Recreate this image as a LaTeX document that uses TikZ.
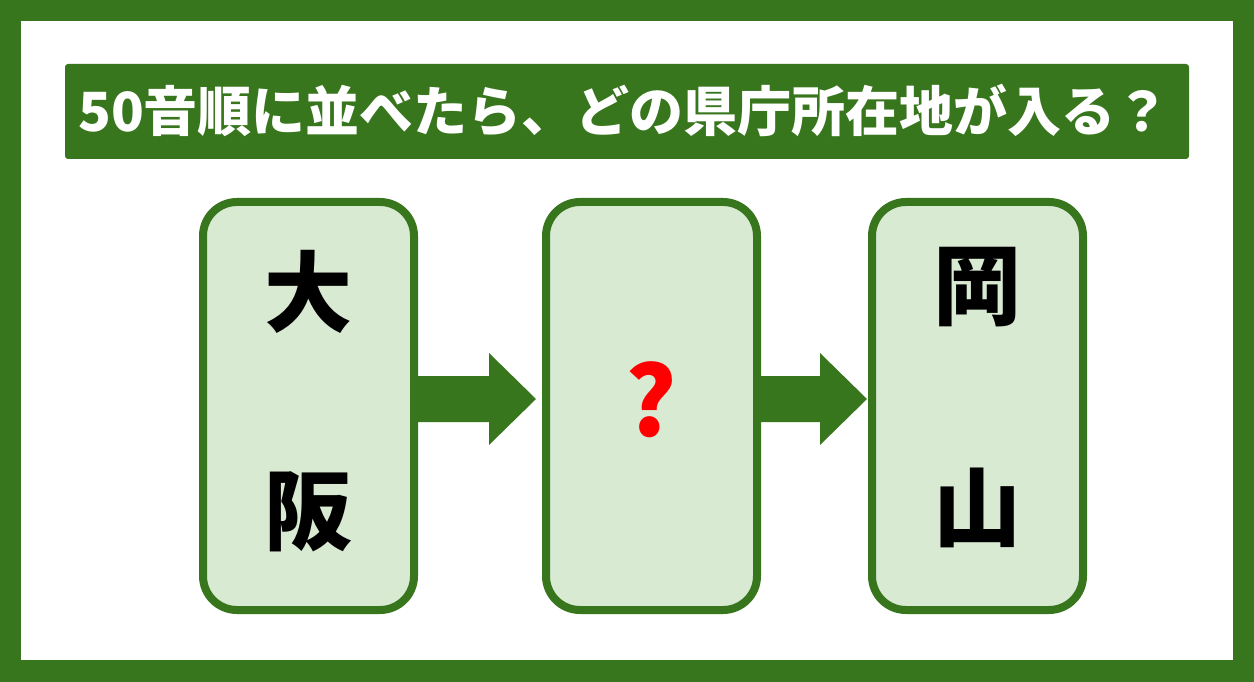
\documentclass[tikz,border=0pt]{standalone}
\usepackage{fontspec}
\setmainfont{Noto Sans CJK JP}
\usetikzlibrary{calc}
\definecolor{dgreen}{HTML}{38761D}
\definecolor{lgreen}{HTML}{D9EAD3}
\begin{document}
\begin{tikzpicture}[x=1pt, y=-1pt, line join=round,
  box/.style={draw=dgreen, line width=8pt, fill=lgreen, rounded corners=34pt, minimum width=211pt, minimum height=408pt},
  glyph/.style={font=\fontsize{88}{88}\selectfont\bfseries, inner sep=0pt}]
	\useasboundingbox (0,0) rectangle (1254,682);
	% frame
	\fill[dgreen] (0,0) rectangle (1254,682);
	\fill[white] (21,21) rectangle (1233,660);
	% title
	\fill[dgreen, rounded corners=3pt] (65,64) rectangle (1189,159);
	\node[text=white, font=\fontsize{54}{54}\selectfont\bfseries] (title) at (624,110) {50音順に並べたら、どの県庁所在地が入る？};
	% boxes
	\node[box] (b1) at (308.5,406) {};
	\node[box] (b2) at (651.5,406) {};
	\node[box] (b3) at (977.5,406) {};
	\node[glyph] (b1a) at ($(b1.north)+(0,94)$) {大};
	\node[glyph] (b1b) at ($(b1.south)+(0,-102)$) {阪};
	\node[glyph, text=red, font=\fontsize{96}{96}\selectfont\bfseries] (q) at ($(b2.center)+(0,-6)$) {?};
	\node[glyph] (b3a) at ($(b3.north)+(0,89)$) {岡};
	\node[glyph] (b3b) at ($(b3.south)+(0,-106)$) {山};
	% arrows
	\foreach \a/\b/\g in {b1/b2/6, b2/b3/1}
	\fill[dgreen] ($(\a.east)+(0,-30)$) -- ($(\b.west)+(-\g-47,-30)$) -- ($(\b.west)+(-\g-47,-53)$) -- ($(\b.west)+(-\g,-7)$) -- ($(\b.west)+(-\g-47,39)$) -- ($(\b.west)+(-\g-47,16)$) -- ($(\a.east)+(0,16)$) -- cycle;
\end{tikzpicture}
\end{document}
